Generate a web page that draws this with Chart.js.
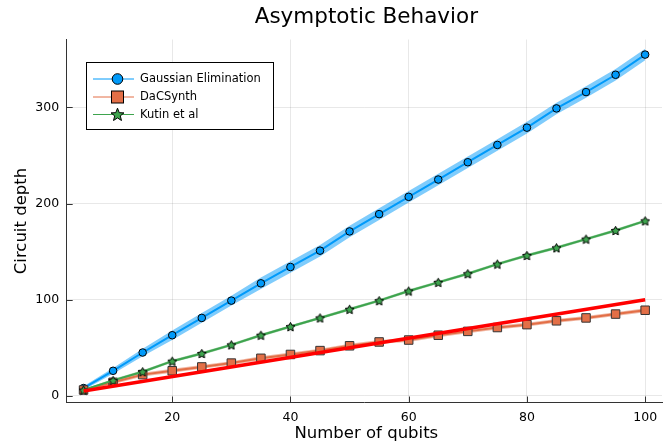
<!DOCTYPE html>
<html>
<head>
<meta charset="utf-8">
<script src="https://cdn.jsdelivr.net/npm/chart.js@4.4.1/dist/chart.umd.min.js"></script>
<style>
  html, body { margin: 0; padding: 0; background: #fff; }
  #wrap { width: 671px; height: 447px; }
</style>
</head>
<body>
<div id="wrap"><canvas id="chart" width="671" height="447"></canvas></div>
<script>
// values
const qubits = [5, 10, 15, 20, 25, 30, 35, 40, 45, 50, 55, 60, 65, 70, 75, 80, 85, 90, 95, 100];
const gaussian = [8, 26, 45, 63, 81, 99, 117, 134, 151, 171, 189, 207, 225, 243, 261, 279, 299, 316, 334, 355];
const gaussianSpread = [2, 3, 4, 5, 5, 5, 6, 6, 6, 6, 6, 6, 6, 6, 6, 6, 6, 6, 6, 6];
const dacSynth = [6, 14, 22, 26, 30, 34, 39, 43, 47, 52, 56, 58, 63, 67, 71, 74, 78, 81, 85, 89];
const dacSpread = [1, 2, 2, 2, 2, 2, 2, 2, 2, 2, 2, 2, 2, 2, 2, 2, 2, 2, 2, 2];
const kutin = [6, 16, 25, 36, 44, 53, 63, 72, 81, 90, 99, 109, 118, 127, 137, 146, 154, 163, 172, 182];
const kutinSpread = [1, 1.5, 1.5, 1.5, 1.5, 1.5, 1.5, 1.5, 1.5, 1.5, 1.5, 1.5, 1.5, 1.5, 1.5, 1.5, 1.5, 1.5, 1.5, 1.5];
const refX = [5, 100];
const refY = [5, 100];
const xTicks = [20, 40, 60, 80, 100];
const yTicks = [0, 100, 200, 300];
const seriesNames = ['Gaussian Elimination', 'DaCSynth', 'Kutin et al'];

const blue = '#009AFA', orange = '#E36F47', green = '#3EA44E', red = '#FF0000';
const font = '"DejaVu Sans", sans-serif';

function toPoints(xs, ys) {
    return xs.map(function (x, i) { return {x: x, y: ys[i]}; });
}
function shifted(ys, spread, sign) {
    return ys.map(function (v, i) { return v + sign * spread[i]; });
}

function starPath(ctx, cx, cy, outer, inner) {
    ctx.beginPath();
    for (let i = 0; i < 10; i++) {
        const r = i % 2 === 0 ? outer : inner;
        const a = -Math.PI / 2 + i * Math.PI / 5;
        const px = cx + r * Math.cos(a), py = cy + r * Math.sin(a);
        if (i === 0) ctx.moveTo(px, py); else ctx.lineTo(px, py);
    }
    ctx.closePath();
}

function makeStar(size) {
    const c = document.createElement('canvas');
    c.width = size; c.height = size;
    const g = c.getContext('2d');
    starPath(g, size / 2, size / 2 + 0.5, size / 2 - 0.8, size / 4.6);
    g.fillStyle = green; g.fill();
    g.strokeStyle = '#000'; g.lineWidth = 1; g.stroke();
    return c;
}

function ribbon(ys, spread, color, order) {
    return [{
        data: toPoints(qubits, shifted(ys, spread, -1)),
        borderWidth: 0, pointRadius: 0, fill: false, order: order
    }, {
        data: toPoints(qubits, shifted(ys, spread, 1)),
        borderWidth: 0, pointRadius: 0, fill: '-1', backgroundColor: color, order: order
    }];
}

const innerTicks = {
    id: 'innerTicks',
    beforeDatasetsDraw: function (chart) {
        const ctx = chart.ctx, a = chart.chartArea, x = chart.scales.x, y = chart.scales.y;
        ctx.save();
        ctx.strokeStyle = '#333'; ctx.lineWidth = 1;
        ctx.beginPath();
        xTicks.forEach(function (v) {
            const px = Math.round(x.getPixelForValue(v)) + 0.5;
            ctx.moveTo(px, a.bottom); ctx.lineTo(px, a.bottom - 6);
        });
        yTicks.forEach(function (v) {
            const py = Math.round(y.getPixelForValue(v)) + 0.5;
            ctx.moveTo(a.left, py); ctx.lineTo(a.left + 6, py);
        });
        ctx.stroke();
        ctx.restore();
    }
};

const texts = {
    id: 'texts',
    afterDraw: function (chart) {
        const ctx = chart.ctx, a = chart.chartArea;
        const cx = (a.left + a.right) / 2 + 2;
        ctx.save();
        ctx.fillStyle = '#000';
        ctx.textAlign = 'center'; ctx.textBaseline = 'middle';
        ctx.font = '21.5px ' + font;
        ctx.fillText('Asymptotic Behavior', cx, 17);
        ctx.font = '16.5px ' + font;
        ctx.fillText('Number of qubits', cx, 434);
        ctx.translate(22, (a.top + a.bottom) / 2);
        ctx.rotate(-Math.PI / 2);
        ctx.fillText('Circuit depth', 0, 0);
        ctx.restore();

        // legend box
        ctx.save();
        ctx.fillStyle = '#fff';
        ctx.fillRect(86.5, 62.5, 187, 67);
        ctx.strokeStyle = '#000'; ctx.lineWidth = 1;
        ctx.strokeRect(86.5, 62.5, 187, 67);
        ctx.font = '11.5px ' + font;
        ctx.textAlign = 'left'; ctx.textBaseline = 'middle';
        const colors = [blue, orange, green];
        const rows = [79, 97, 114.5];
        rows.forEach(function (ry, i) {
            ctx.strokeStyle = colors[i]; ctx.lineWidth = 1;
            ctx.beginPath(); ctx.moveTo(93, ry); ctx.lineTo(134, ry); ctx.stroke();
            ctx.fillStyle = colors[i]; ctx.strokeStyle = '#000'; ctx.lineWidth = 1;
            if (i === 0) {
                ctx.beginPath(); ctx.arc(117.5, ry, 5.3, 0, Math.PI * 2); ctx.fill(); ctx.stroke();
            } else if (i === 1) {
                ctx.fillRect(111.5, ry - 6, 12, 12); ctx.strokeRect(111.5, ry - 6, 12, 12);
            } else {
                starPath(ctx, 117.5, ry + 0.5, 6.8, 2.9); ctx.fill(); ctx.stroke();
            }
            ctx.fillStyle = '#000';
            ctx.fillText(seriesNames[i], 140, ry + 0.5);
        });
        ctx.restore();
    }
};

const datasets = []
    .concat(ribbon(gaussian, gaussianSpread, 'rgba(0,154,250,0.5)', 20))
    .concat(ribbon(dacSynth, dacSpread, 'rgba(227,111,71,0.5)', 20))
    .concat(ribbon(kutin, kutinSpread, 'rgba(62,164,78,0.5)', 20))
    .concat([{
        label: seriesNames[0],
        data: toPoints(qubits, gaussian),
        borderColor: blue, borderWidth: 2, fill: false,
        pointStyle: 'circle', pointRadius: 3.8,
        pointBackgroundColor: blue, pointBorderColor: '#000', pointBorderWidth: 1,
        order: 4
    }, {
        label: seriesNames[1],
        data: toPoints(qubits, dacSynth),
        borderColor: orange, borderWidth: 2, fill: false,
        pointStyle: 'rect', pointRadius: 6,
        pointBackgroundColor: orange, pointBorderColor: '#333', pointBorderWidth: 1,
        order: 3
    }, {
        label: seriesNames[2],
        data: toPoints(qubits, kutin),
        borderColor: green, borderWidth: 2, fill: false,
        pointStyle: makeStar(11), pointRadius: 5,
        order: 2
    }, {
        label: 'reference',
        data: toPoints(refX, refY),
        borderColor: red, borderWidth: 3.5, fill: false,
        pointRadius: 0,
        order: 1
    }]);

new Chart(document.getElementById('chart'), {
    type: 'line',
    data: {datasets: datasets},
    options: {
        responsive: false,
        animation: false,
        layout: {padding: {top: 39.5, right: 9, left: 0, bottom: 0}},
        scales: {
            x: {
                type: 'linear', min: 2.15, max: 102.85,
                afterFit: function (s) { s.height = 44.5; },
                afterBuildTicks: function (s) { s.ticks = xTicks.map(function (v) { return {value: v}; }); },
                grid: {color: 'rgba(0,0,0,0.09)', drawTicks: false},
                border: {display: true, color: '#333', width: 1},
                ticks: {padding: 8, color: '#000', font: {family: font, size: 12.5}, maxRotation: 0}
            },
            y: {
                type: 'linear', min: -7, max: 370.7,
                afterFit: function (s) { s.width = 66.7; },
                afterBuildTicks: function (s) { s.ticks = yTicks.map(function (v) { return {value: v}; }); },
                grid: {color: 'rgba(0,0,0,0.09)', drawTicks: false},
                border: {display: true, color: '#333', width: 1},
                ticks: {padding: 7.5, color: '#000', font: {family: font, size: 12.5}}
            }
        },
        plugins: {
            legend: {display: false},
            title: {display: false},
            tooltip: {enabled: false}
        }
    },
    plugins: [innerTicks, texts]
});
</script>
</body>
</html>
